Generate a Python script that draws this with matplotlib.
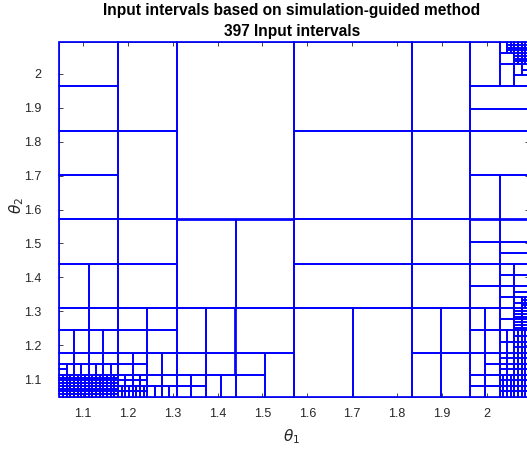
import numpy as np
import matplotlib
matplotlib.use('Agg')
import matplotlib.pyplot as plt
from matplotlib.patches import Rectangle

# input domain for theta_1 and theta_2
lo, hi = np.pi / 3, 2 * np.pi / 3
n_units = 64  # boxes below are given in 1/64ths of the range

# single leaf intervals: (x0, x1, y0, y1)
boxes = [
    # upper left
    (16, 32, 32, 64), (0, 8, 56, 64), (0, 8, 48, 56), (8, 16, 48, 64),
    (0, 8, 40, 48), (0, 8, 32, 40), (8, 16, 32, 48),
    # upper right
    (32, 48, 48, 64), (32, 48, 32, 48), (48, 56, 48, 64), (48, 56, 32, 48),
    (56, 64, 52, 56), (56, 64, 48, 52), (56, 64, 40, 48), (56, 60, 32, 40),
    (60, 64, 32, 40), (56, 60, 56, 64), (60, 62, 56, 60), (62, 64, 56, 58),
    (62, 63, 58, 60), (63, 64, 59, 60), (63, 64, 58, 59), (60, 62, 60, 62),
    (60, 61, 62, 64),
    # lower left
    (0, 8, 24, 32), (8, 16, 24, 32), (0, 4, 16, 24), (4, 8, 16, 24),
    (8, 16, 16, 24), (16, 24, 16, 32), (24, 32, 16, 32),
    (16, 20, 8, 16), (20, 24, 8, 16), (24, 32, 8, 16),
    (0, 4, 12, 16), (4, 8, 12, 16), (8, 12, 12, 16), (12, 16, 12, 16),
    (0, 2, 8, 12), (2, 4, 8, 12), (4, 6, 8, 12), (6, 8, 8, 12),
    (8, 12, 8, 12), (12, 16, 8, 12),
    (16, 20, 4, 8), (20, 24, 4, 8), (24, 28, 4, 8), (24, 28, 0, 4), (28, 32, 0, 8),
    (16, 18, 2, 4), (18, 20, 2, 4), (16, 18, 0, 2), (18, 20, 0, 2),
    (20, 22, 0, 4), (22, 24, 0, 4),
    (12, 14, 4, 8), (14, 16, 4, 8), (0, 1, 5, 6), (0, 1, 4, 5),
    (12, 14, 2, 4), (14, 16, 2, 4),
    # lower right
    (32, 48, 24, 32), (32, 48, 16, 24), (32, 40, 0, 16), (40, 48, 0, 16),
    (48, 56, 24, 32), (48, 56, 16, 24), (48, 52, 8, 16), (52, 56, 8, 16),
    (48, 52, 0, 8), (52, 56, 0, 8),
    (56, 60, 28, 32), (60, 64, 28, 32), (56, 60, 24, 28), (60, 64, 26, 28),
    (60, 64, 24, 26), (56, 60, 20, 24), (56, 60, 16, 20),
    (62, 64, 22, 24), (62, 64, 20, 22), (62, 64, 19, 20), (62, 64, 18, 19),
    (62, 63, 17, 18), (62, 63, 16, 17),
    (56, 58, 12, 16), (58, 60, 12, 16), (56, 58, 8, 12), (58, 60, 8, 12),
    (56, 58, 4, 8), (58, 60, 6, 8), (58, 60, 4, 6), (56, 58, 2, 4),
    (56, 58, 0, 2), (58, 60, 2, 4), (58, 60, 0, 2),
    (60, 62, 14, 16), (60, 62, 12, 14),
]

# blocks cut into an even grid of leaf intervals: (x0, x1, y0, y1, nx, ny)
grid_blocks = [
    (61, 62, 62, 64, 2, 4), (62, 64, 60, 64, 4, 8),
    (0, 12, 6, 8, 6, 1), (8, 12, 4, 6, 2, 1), (1, 8, 4, 6, 7, 1),
    (12, 16, 0, 2, 4, 1), (8, 12, 2, 4, 4, 2), (8, 12, 0, 2, 8, 2),
    (0, 8, 0, 4, 16, 8),
    (60, 62, 16, 24, 1, 4), (63, 64, 16, 18, 2, 4), (60, 62, 8, 12, 2, 2),
    (60, 62, 4, 8, 2, 4), (60, 62, 0, 4, 4, 4), (62, 64, 12, 16, 2, 8),
    (62, 64, 0, 12, 4, 12),
]

n_intervals = 397
xticks = [1.1, 1.2, 1.3, 1.4, 1.5, 1.6, 1.7, 1.8, 1.9, 2.0]
yticks = [1.1, 1.2, 1.3, 1.4, 1.5, 1.6, 1.7, 1.8, 1.9, 2.0]

plt.rcParams['font.family'] = ['Liberation Sans', 'DejaVu Sans']
plt.rcParams['mathtext.fontset'] = 'dejavusans'

W, H = 527, 453
fig = plt.figure(figsize=(W / 100, H / 100), dpi=100)
# the right edge of the axes sits just past the image edge, as in the reference
ax = fig.add_axes([59.4 / W, 56 / H, (529 - 59.4) / W, 355 / H])

step = (hi - lo) / n_units

def to_theta(u):
    return lo + u * step

rects = []
for x0, x1, y0, y1 in boxes:
    rects.append((x0, x1, y0, y1))
for x0, x1, y0, y1, nx, ny in grid_blocks:
    xs = np.linspace(x0, x1, nx + 1)
    ys = np.linspace(y0, y1, ny + 1)
    for i in range(nx):
        for j in range(ny):
            rects.append((xs[i], xs[i + 1], ys[j], ys[j + 1]))

for x0, x1, y0, y1 in rects:
    ax.add_patch(Rectangle((to_theta(x0), to_theta(y0)),
                           (x1 - x0) * step, (y1 - y0) * step,
                           fill=False, edgecolor=(0, 0, 1), linewidth=1.25,
                           zorder=3, clip_on=False))

ax.set_xlim(lo, hi)
ax.set_ylim(lo, hi)
ax.set_xticks(xticks)
ax.set_yticks(yticks)
ax.set_xticklabels(['%g' % t for t in xticks])
ax.set_yticklabels(['%g' % t for t in yticks])
ax.tick_params(direction='in', length=3, width=0.6, colors='#262626',
               labelsize=9, top=True, right=True)
ax.tick_params(axis='x', pad=8)
ax.tick_params(axis='y', pad=13)
for s in ax.spines.values():
    s.set_color('#262626')
    s.set_linewidth(0.6)

fig.text(292 / W, 1 - 15 / H, 'Input intervals based on simulation-guided method',
         ha='center', va='baseline', fontsize=11.2, fontweight='bold')
fig.text(292 / W, 1 - 36 / H, '%d Input intervals' % n_intervals,
         ha='center', va='baseline', fontsize=11.2, fontweight='bold')
fig.text(292 / W, 1 - 437 / H, r'$\theta_1$', ha='center', va='center',
         fontsize=11, color='#262626')
fig.text(17 / W, 1 - 205 / H, r'$\theta_2$', ha='center', va='center',
         fontsize=11, color='#262626', rotation=90)

fig.savefig('out.png', dpi=100)
